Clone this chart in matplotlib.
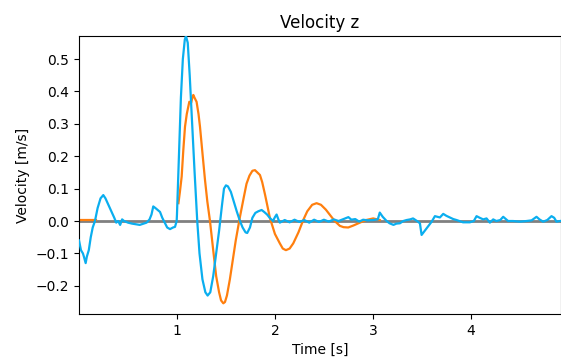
import numpy as np
import matplotlib
matplotlib.use("Agg")
import matplotlib.pyplot as plt

# Blue series (measured velocity)
blue_t = [0.0, 0.02, 0.04, 0.05, 0.068, 0.08, 0.10, 0.12, 0.14, 0.163, 0.19, 0.22, 0.248, 0.27, 0.30,
          0.33, 0.36, 0.38, 0.40, 0.42, 0.44, 0.46, 0.50, 0.54, 0.58, 0.62, 0.66, 0.69, 0.72, 0.74,
          0.758, 0.78, 0.80, 0.827, 0.85, 0.878, 0.90, 0.929, 0.96, 0.98, 0.997,
          1.0, 1.02, 1.04, 1.06, 1.08, 1.092, 1.11, 1.13, 1.15, 1.18, 1.207, 1.23, 1.26, 1.29, 1.313,
          1.34, 1.37, 1.40, 1.43, 1.46, 1.48, 1.50, 1.52, 1.55, 1.58, 1.61, 1.643, 1.67, 1.70, 1.717,
          1.745, 1.77, 1.80, 1.83, 1.864, 1.89, 1.92, 1.949, 1.98, 2.0, 2.017, 2.035, 2.05,
          2.1, 2.15, 2.2, 2.25, 2.3, 2.35, 2.4, 2.45, 2.5, 2.55, 2.6, 2.65, 2.7, 2.75, 2.78, 2.82,
          2.86, 2.9, 2.95, 3.0, 3.05, 3.07, 3.1, 3.14, 3.17, 3.21, 3.24, 3.276, 3.31, 3.344, 3.38,
          3.41, 3.45, 3.48, 3.497, 3.6, 3.633, 3.684, 3.718, 3.75, 3.786, 3.82, 3.854, 3.92, 3.99,
          4.03, 4.058, 4.09, 4.126, 4.16, 4.194, 4.228, 4.26, 4.30, 4.33, 4.38, 4.43, 4.5, 4.568,
          4.62, 4.67, 4.70, 4.738, 4.78, 4.823, 4.85, 4.874, 4.91]
blue_v = [-0.06, -0.09, -0.10, -0.11, -0.13, -0.11, -0.09, -0.05, -0.02, 0.0, 0.04, 0.07, 0.08, 0.07, 0.05,
          0.03, 0.01, -0.005, 0.0, -0.012, 0.005, 0.0, -0.005, -0.008, -0.01, -0.012, -0.008, -0.005, 0.005, 0.02,
          0.045, 0.04, 0.035, 0.028, 0.01, -0.007, -0.02, -0.025, -0.02, -0.018, 0.0,
          0.02, 0.2, 0.38, 0.50, 0.56, 0.571, 0.55, 0.45, 0.33, 0.15, 0.0, -0.1, -0.18, -0.22, -0.23,
          -0.22, -0.17, -0.1, -0.03, 0.05, 0.10, 0.11, 0.107, 0.09, 0.06, 0.03, 0.0, -0.02, -0.035, -0.037,
          -0.02, 0.01, 0.025, 0.03, 0.034, 0.028, 0.02, 0.009, 0.0, 0.012, 0.02, 0.005, -0.005,
          0.003, -0.004, 0.004, -0.003, 0.003, -0.005, 0.004, -0.003, 0.004, -0.002, 0.005, 0.0, 0.006, 0.012, 0.004, 0.006,
          -0.002, 0.004, 0.002, 0.003, 0.005, 0.026, 0.013, 0.0, -0.007, -0.012, -0.008, -0.007, 0.0, 0.003, 0.005,
          0.008, 0.0, -0.007, -0.043, -0.002, 0.015, 0.011, 0.022, 0.016, 0.011, 0.006, 0.003, -0.004, -0.004,
          0.0, 0.015, 0.01, 0.005, 0.008, -0.005, 0.005, 0.0, 0.003, 0.013, 0.0, 0.0, -0.002, 0.0,
          0.002, 0.013, 0.005, -0.002, 0.003, 0.015, 0.01, -0.002, 0.0]

# Orange series (model velocity), two segments
orange_t1 = [0.0, 0.17]
orange_v1 = [0.003, 0.003]
orange_t2 = [1.015, 1.03, 1.048, 1.065, 1.082, 1.10, 1.126, 1.145, 1.16, 1.167, 1.18, 1.20, 1.22, 1.235,
             1.26, 1.286, 1.31, 1.337, 1.37, 1.40, 1.43, 1.45, 1.473, 1.49, 1.51, 1.54, 1.57, 1.60,
             1.643, 1.68, 1.71, 1.74, 1.77, 1.796, 1.82, 1.847, 1.87, 1.90, 1.949, 2.0, 2.05, 2.08,
             2.112, 2.15, 2.187, 2.24, 2.289, 2.33, 2.38, 2.425, 2.47, 2.52, 2.561, 2.61, 2.663, 2.70,
             2.748, 2.80, 2.867, 2.93, 3.003, 3.07]
orange_v2 = [0.055, 0.09, 0.137, 0.22, 0.291, 0.33, 0.368, 0.365, 0.385, 0.389, 0.38, 0.368, 0.33, 0.291,
             0.21, 0.127, 0.06, 0.0, -0.09, -0.17, -0.22, -0.245, -0.254, -0.25, -0.23, -0.18, -0.12, -0.06,
             0.013, 0.07, 0.115, 0.14, 0.155, 0.157, 0.15, 0.142, 0.12, 0.08, 0.009, -0.04, -0.069, -0.085,
             -0.09, -0.085, -0.069, -0.035, 0.003, 0.03, 0.05, 0.055, 0.05, 0.035, 0.019, 0.0, -0.015, -0.019,
             -0.02, -0.014, -0.005, 0.003, 0.008, 0.003]

xticks = [1, 2, 3, 4]
yticks = [-0.2, -0.1, 0.0, 0.1, 0.2, 0.3, 0.4, 0.5]

fig = plt.figure(figsize=(5.61, 3.58), dpi=100)
ax = fig.add_axes([79/561, 1-314/358, 1-79/561, (314-36)/358])

ax.axhline(0, color='grey', lw=2, zorder=1)
ax.plot(orange_t1, orange_v1, color='#ff7f0e', lw=1.6, zorder=2)
ax.plot(orange_t2, orange_v2, color='#ff7f0e', lw=1.6, zorder=2)
ax.plot(blue_t, blue_v, color='#0aaeef', lw=1.6, zorder=3)

ax.set_xlim(0, 4.92)
ax.set_ylim(-0.287, 0.571)
ax.set_xticks(xticks)
ax.set_yticks(yticks)
ax.set_yticklabels([f"{v:.1f}".replace('-', '\u2212') for v in yticks])
ax.tick_params(labelsize=10)
ax.set_xlabel("Time [s]", fontsize=10)
ax.set_ylabel("Velocity [m/s]", fontsize=10)
ax.set_title("Velocity z", fontsize=12)

fig.savefig("out.png", dpi=100)
